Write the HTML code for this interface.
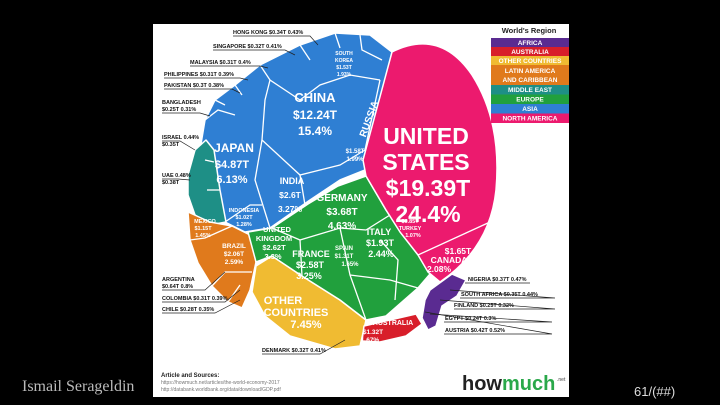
<!DOCTYPE html>
<html><head><meta charset="utf-8"><style>
html,body{margin:0;padding:0;background:#000;width:720px;height:405px;overflow:hidden}
svg{display:block}
</style></head><body>
<svg width="720" height="405" viewBox="0 0 720 405" xmlns="http://www.w3.org/2000/svg" font-family="Liberation Sans, sans-serif">
<rect x="0" y="0" width="720" height="405" fill="#000"/>
<rect x="153" y="24" width="416" height="373" fill="#fff"/>
<g stroke="#fff" stroke-width="1.5" stroke-linejoin="round">
<polygon fill="#2f7fd3" points="205,120 215,100 235,85 260,65 300,45 335,33 370,35 392,52 365,170 340,180 310,200 270,228 245,232 225,222 205,190 200,150"/>
<polygon fill="#1e8f86" points="188,175 195,150 206,140 214,150 220,190 226,222 210,225 195,215 188,195"/>
<polygon fill="#e07a1c" points="188,212 210,222 232,226 252,236 256,262 250,290 242,308 228,302 212,286 198,263 190,240"/>
<polygon fill="#f0bb32" points="256,266 272,256 302,276 340,300 366,320 360,346 335,349 290,336 265,316 252,292"/>
<polygon fill="#21a03d" points="248,232 272,228 308,204 338,186 366,176 386,210 402,234 420,256 430,274 418,288 402,302 386,316 366,320 340,300 302,276 272,256 256,262"/>
<path fill="#ec1a6e" d="M392,52 Q440,28 472,75 Q502,122 496,190 Q490,248 440,282 L428,272 L418,255 L400,232 L386,210 L366,176 L363,160 Z"/>
<polygon fill="#d81e2a" points="364,326 390,320 416,314 422,324 406,336 380,342 362,341"/>
<polygon fill="#5a2b91" points="430,290 452,274 466,280 457,296 442,306 436,326 428,330 422,318 425,300"/>
</g>
<g stroke="#fff" stroke-width="1.3" fill="none">
<polyline points="260,65 270,80 300,100 320,85 350,75 380,80"/>
<polyline points="270,80 265,100 262,140 300,175 340,165 365,150"/>
<polyline points="300,45 310,60"/><polyline points="335,33 340,48"/><polyline points="360,35 362,50 382,60"/>
<polyline points="380,80 365,150"/>
<polyline points="262,140 255,180 270,228"/><polyline points="300,175 305,205"/>
<polyline points="225,222 250,205 262,205"/>
<polyline points="205,120 218,110 235,115"/><polyline points="215,100 225,105"/><polyline points="235,85 242,95"/>
<polyline points="205,160 214,162"/><polyline points="207,190 220,190"/>
<polyline points="190,240 205,238 232,226"/><polyline points="212,286 225,272 252,272"/><polyline points="228,302 240,285"/>
<polyline points="302,276 300,240 340,228 366,230 390,215"/><polyline points="340,228 350,275 366,320"/>
<polyline points="272,228 300,240"/><polyline points="350,275 390,280 418,288"/><polyline points="380,240 398,260 395,300"/>
<polyline points="418,255 490,222"/>
</g>
<g fill="#fff" font-weight="bold" text-anchor="middle">
<text x="315" y="102" font-size="13">CHINA</text><text x="315" y="119" font-size="12">$12.24T</text><text x="315" y="135" font-size="12">15.4%</text>
<text x="234" y="152" font-size="12">JAPAN</text><text x="232" y="168" font-size="11">$4.87T</text><text x="232" y="183" font-size="11">6.13%</text>
<text x="292" y="184" font-size="9">INDIA</text><text x="290" y="198" font-size="8.5">$2.6T</text><text x="290" y="212" font-size="8.5">3.27%</text>
<text x="342" y="201" font-size="10">GERMANY</text><text x="342" y="215" font-size="10">$3.68T</text><text x="342" y="229" font-size="10">4.63%</text>
<text x="426" y="144" font-size="23">UNITED</text><text x="426" y="170" font-size="23">STATES</text><text x="428" y="196" font-size="23">$19.39T</text><text x="428" y="222" font-size="23">24.4%</text>
<text x="458" y="254" font-size="8.5">$1.65T</text><text x="449" y="263" font-size="8.5">CANADA</text><text x="439" y="272" font-size="8.5">2.08%</text>
<text x="277" y="232" font-size="7.5">UNITED</text><text x="274" y="241" font-size="7.5">KINGDOM</text><text x="274" y="250" font-size="7.5">$2.62T</text><text x="273" y="259" font-size="7.5">3.3%</text>
<text x="311" y="257" font-size="9">FRANCE</text><text x="310" y="268" font-size="9">$2.58T</text><text x="309" y="279" font-size="9">3.25%</text>
<text x="379" y="235" font-size="9">ITALY</text><text x="380" y="246" font-size="9">$1.93T</text><text x="381" y="257" font-size="9">2.44%</text>
<text x="344" y="250" font-size="6">SPAIN</text><text x="344" y="258" font-size="6">$1.31T</text><text x="350" y="266" font-size="6">1.65%</text>
<text x="283" y="304" font-size="11">OTHER</text><text x="296" y="316" font-size="11">COUNTRIES</text><text x="306" y="328" font-size="11">7.45%</text>
<text x="393" y="325" font-size="7">AUSTRALIA</text><text x="373" y="334" font-size="6.5">$1.32T</text><text x="370" y="342" font-size="6.5">1.67%</text>
<text x="234" y="248" font-size="6.5">BRAZIL</text><text x="234" y="256" font-size="6.5">$2.06T</text><text x="234" y="264" font-size="6.5">2.59%</text>
<text x="205" y="223" font-size="5.5">MEXICO</text><text x="203" y="230" font-size="5.5">$1.15T</text><text x="203" y="237" font-size="5.5">1.45%</text>
<text x="244" y="212" font-size="5.5">INDONESIA</text><text x="244" y="219" font-size="5.5">$1.02T</text><text x="244" y="226" font-size="5.5">1.28%</text>
<text x="344" y="55" font-size="5">SOUTH</text><text x="344" y="62" font-size="5">KOREA</text><text x="344" y="69" font-size="5">$1.53T</text><text x="344" y="76" font-size="5">1.93%</text>
<text x="355" y="153" font-size="6">$1.58T</text><text x="355" y="161" font-size="6">1.99%</text>
<text x="410" y="223" font-size="5.5">$0.85T</text><text x="410" y="230" font-size="5.5">TURKEY</text><text x="413" y="237" font-size="5.5">1.07%</text>
<text transform="translate(372,120) rotate(-70)" font-size="10">RUSSIA</text>
</g>
<g fill="#111" font-weight="bold" font-size="5.5">
<text x="233" y="34">HONG KONG $0.34T 0.43%</text>
<text x="213" y="48">SINGAPORE $0.32T 0.41%</text>
<text x="190" y="64">MALAYSIA $0.31T 0.4%</text>
<text x="164" y="76">PHILIPPINES $0.31T 0.39%</text>
<text x="164" y="87">PAKISTAN $0.3T 0.38%</text>
<text x="162" y="104">BANGLADESH</text><text x="162" y="111">$0.25T 0.31%</text>
<text x="162" y="139">ISRAEL 0.44%</text><text x="162" y="146">$0.35T</text>
<text x="162" y="177">UAE 0.48%</text><text x="162" y="184">$0.38T</text>
<text x="162" y="281">ARGENTINA</text><text x="162" y="288">$0.64T 0.8%</text>
<text x="162" y="300">COLOMBIA $0.31T 0.39%</text>
<text x="162" y="311">CHILE $0.28T 0.35%</text>
<text x="262" y="352">DENMARK $0.32T 0.41%</text>
<text x="468" y="281">NIGERIA $0.37T 0.47%</text>
<text x="461" y="296">SOUTH AFRICA $0.35T 0.44%</text>
<text x="454" y="307">FINLAND $0.25T 0.32%</text>
<text x="445" y="320">EGYPT $0.24T 0.3%</text>
<text x="445" y="332">AUSTRIA $0.42T 0.52%</text>
</g>
<g stroke="#222" stroke-width="0.7" fill="none">
<polyline points="233,36 310,36 318,45"/><polyline points="213,50 285,50 295,55"/><polyline points="190,66 260,66 268,68"/>
<polyline points="164,78 240,78 248,80"/><polyline points="164,89 232,89 240,93"/><polyline points="162,113 200,113 210,116"/>
<polyline points="162,141 180,141 195,150"/><polyline points="162,179 178,179 190,180"/>
<polyline points="162,290 205,290 225,272"/><polyline points="162,302 225,302 240,290"/><polyline points="162,313 215,313 240,300"/>
<polyline points="262,354 320,354 345,340"/>
<polyline points="465,283 530,283"/><polyline points="460,298 555,298 450,290"/><polyline points="454,309 555,309 440,300"/>
<polyline points="444,322 552,322 430,314"/><polyline points="444,334 552,334 425,312"/>
</g>
<text x="529" y="33" text-anchor="middle" font-size="7.5" font-weight="bold" fill="#222">World's Region</text>
<g font-size="6.5" font-weight="bold" fill="#fff" text-anchor="middle">
<rect x="491" y="38" width="78" height="9" fill="#5a2b91"/><text x="530" y="45">AFRICA</text>
<rect x="491" y="47" width="78" height="9" fill="#d81e2a"/><text x="530" y="54">AUSTRALIA</text>
<rect x="491" y="56" width="78" height="9" fill="#f0bb32"/><text x="530" y="63">OTHER COUNTRIES</text>
<rect x="491" y="65" width="78" height="20" fill="#e07a1c"/><text x="530" y="73">LATIN AMERICA</text><text x="530" y="82">AND CARIBBEAN</text>
<rect x="491" y="85" width="78" height="9.5" fill="#1e8f86"/><text x="530" y="92">MIDDLE EAST</text>
<rect x="491" y="94.5" width="78" height="9.5" fill="#21a03d"/><text x="530" y="101.5">EUROPE</text>
<rect x="491" y="104" width="78" height="9.5" fill="#2f7fd3"/><text x="530" y="111">ASIA</text>
<rect x="491" y="113.5" width="78" height="9.5" fill="#ec1a6e"/><text x="530" y="120.5">NORTH AMERICA</text>
</g>
<text x="161" y="377" font-size="6" font-weight="bold" fill="#222">Article and Sources:</text>
<text x="161" y="384" font-size="5" fill="#777">https://howmuch.net/articles/the-world-economy-2017</text>
<text x="161" y="391" font-size="5" fill="#777">http://databank.worldbank.org/data/download/GDP.pdf</text>
<text x="462" y="390" font-size="20" font-weight="bold" fill="#222">how<tspan fill="#2aa84a">much</tspan></text>
<text x="557" y="381" font-size="5" fill="#444">.net</text>
<text x="22" y="391" font-family="Liberation Serif, serif" font-size="16" fill="#bbb">Ismail Serageldin</text>
<text x="634" y="396" font-size="13" fill="#ddd">61/(##)</text>
</svg>
</body></html>
